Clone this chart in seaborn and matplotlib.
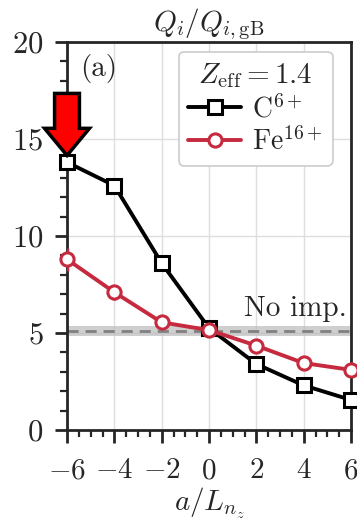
import numpy as np
import pandas as pd
import matplotlib
matplotlib.use("Agg")
import matplotlib.pyplot as plt
import seaborn as sns
from matplotlib.patches import FancyArrow
from matplotlib.ticker import MultipleLocator

# Density gradient scan
a_Lnz = [-6, -4, -2, 0, 2, 4, 6]
q_carbon = [13.8, 12.6, 8.6, 5.25, 3.4, 2.3, 1.55]
err_carbon = [0.2, 0.25, 0.35, 0.15, 0.1, 0.1, 0.1]
q_iron = [8.8, 7.1, 5.55, 5.15, 4.35, 3.45, 3.1]
err_iron = [0.6, 0.4, 0.15, 0.15, 0.1, 0.1, 0.1]
no_imp_mean = 5.1
no_imp_err = 0.25

series_labels = [r"C$^{6+}$", r"Fe$^{16+}$"]
legend_title = r"$Z_\mathrm{eff} = 1.4$"
xticks = [-6, -4, -2, 0, 2, 4, 6]
yticks = [0, 5, 10, 15, 20]

sns.set_style("ticks")
plt.rcParams.update({
    "font.family": "serif",
    "font.serif": ["cmr10", "DejaVu Serif"],
    "mathtext.fontset": "cm",
    "axes.formatter.use_mathtext": True,
    "axes.unicode_minus": True,
    "axes.linewidth": 2.0,
    "xtick.major.width": 2.0, "ytick.major.width": 2.0,
    "xtick.minor.width": 1.6, "ytick.minor.width": 1.6,
    "xtick.major.size": 9, "ytick.major.size": 9,
    "xtick.minor.size": 5, "ytick.minor.size": 5,
    "xtick.direction": "out", "ytick.direction": "out",
})

black = "#000000"
red = "#c52a3e"

fig = plt.figure(figsize=(3.57, 5.23), dpi=100)
ax = fig.add_axes([0.1877, 0.1778, 0.7955, 0.7419])

# reference level without impurities
ax.axhspan(no_imp_mean - no_imp_err, no_imp_mean + no_imp_err, color="#bbbbbb", alpha=0.7, lw=0, zorder=1)
ax.axhline(no_imp_mean, color="#808080", ls=(0, (4, 2.5)), lw=2.0, zorder=2)
ax.text(5.8, no_imp_mean + 0.45, "No imp.", ha="right", va="bottom", fontsize=21, zorder=3)

for q, err, color, marker, label in [
    (q_carbon, err_carbon, black, "s", series_labels[0]),
    (q_iron, err_iron, red, "o", series_labels[1]),
]:
    ax.errorbar(a_Lnz, q, yerr=err, fmt="none", ecolor=color, elinewidth=2.5, zorder=4)
    sns.lineplot(x=a_Lnz, y=q, color=color, marker=marker, markersize=9.5,
                 markerfacecolor="white", markeredgecolor=color, markeredgewidth=2.2,
                 linewidth=2.8, label=label, ax=ax, zorder=5, clip_on=False)

ax.set_xlim(-6, 6)
ax.set_ylim(0, 20)
ax.set_xticks(xticks)
ax.set_yticks(yticks)
ax.xaxis.set_minor_locator(MultipleLocator(0.5))
ax.yaxis.set_minor_locator(MultipleLocator(1))
ax.tick_params(axis="x", which="major", labelsize=21, pad=11)
ax.tick_params(axis="y", which="major", labelsize=22, pad=8)
ax.tick_params(top=False, right=False, which="both")
ax.grid(True, which="major", color="#dedede", lw=1.0)
ax.set_axisbelow(True)
for s in ax.spines.values():
    s.set_visible(True)
    s.set_linewidth(2.0)

ax.set_title(r"$Q_i/Q_{i,\mathrm{gB}}$", fontsize=21, pad=4)
ax.set_xlabel(r"$a/L_{n_z}$", fontsize=21, labelpad=1)
ax.set_ylabel("")

leg = ax.legend(title=legend_title, loc="upper right",
                bbox_to_anchor=(0.935, 0.975), borderaxespad=0, fontsize=20, title_fontsize=21,
                frameon=True, fancybox=True, edgecolor="#cccccc", framealpha=1,
                handlelength=1.9, handletextpad=0.4, borderpad=0.35, labelspacing=0.15)
leg.get_frame().set_linewidth(1.2)

ax.text(0.045, 0.97, "(a)", transform=ax.transAxes, ha="left", va="top", fontsize=21)

# highlight the first carbon point
tip_x, tip_y = a_Lnz[0], q_carbon[0] + 0.35
arrow = FancyArrow(tip_x, tip_y + 3.2, 0, -3.2, width=1.05, head_width=1.9,
                   head_length=1.4, length_includes_head=True,
                   facecolor="#ff0000", edgecolor="black", lw=2.5,
                   clip_on=False, zorder=10)
ax.add_patch(arrow)

fig.savefig("out.png", dpi=100)
